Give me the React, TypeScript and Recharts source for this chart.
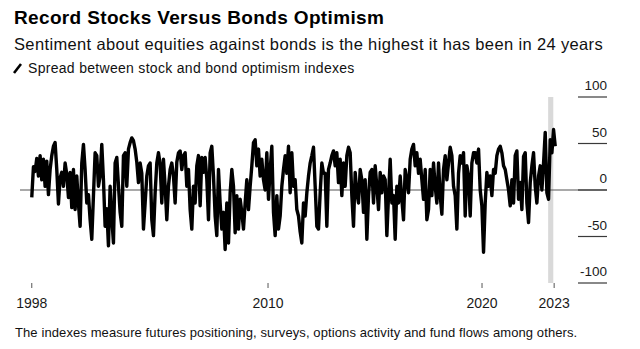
import { LineChart, Line, XAxis, YAxis, ReferenceLine, ReferenceArea } from 'recharts';

// weekly-ish readings of the spread (stock optimism minus bond optimism)
const spread1999to2002 = [
  -8, 25, 20, 34, 15, 37, 11, 33, 4, 31, -5, 22, 37, 47, 51, 22, -15, 13, 19, 4,
  29, 17, -8, 19, -19, 22, -21, 15, -15, -39, 29, 49, 22, -14, -5, -32, -53, -6, 40, 37,
  4, 15, 49, 11, -39, -20, -60, 4, -30, -57,
];
const spread2003to2006 = [
  29, 35, 5, -24, -39, 37, 40, 4, 44, 51, 56, 53, 44, 30, 8, 29, 18, -42, -14, 15,
  26, 29, -32, -49, -3, 29, 40, 28, -14, 33, 4, -32, 4, 22, 29, 15, -14, 30, 40, 42,
  22, 37, 40, 4, 22, -21, -42, 4, -14, 26, 37, -17, 35, 19,
];
const spread2007to2010 = [
  35, 12, -32, 40, 47, 15, -28, -49, 22, -14, -42, -24, -64, -14, -57, -3, 22, 4, -46, -6,
  -42, -10, -24, -42, -14, 11, -21, 4, 26, 51, 54, 26, 44, 15, 33, 11, 0, 40, -10, 22,
  47, -24, -49, -6, -42, -28, 4, 22, 37, 18, 47, -3, 40, 4,
];
const spread2011to2015 = [
  11, -21, -28, -45, -57, -14, -28, -3, 15, 29, 37, 46, 4, -39, -42, -3, 29, 18, 18, -39,
  22, 29, 37, 42, 26, 40, 8, 33, -6, 29, 4, 37, 46, 40, -6, -39, 19, -3, -14, 22,
  11, -24, 11, -53, -6, 19, 22, -14, 26, 4, -21, 19, -3, 15,
];
const spread2015to2019 = [
  11, -49, -6, 33, -14, -6, -53, 4, -14, 15, -10, -32, 22, 11, -3, 33, 44, 49, 26, 40,
  18, 33, 11, -10, 22, -32, -21, 22, -6, 29, 4, -14, 29, -6, -26, 22, 37, 11, 29, 46,
  37, 4, -6, -42, 18, 37, 29, 40, -28, 26, 15, -28, 29, 40,
];
const spread2019to2023 = [
  40, 29, 44, 0, -17, -67, -14, 19, 4, 15, -6, 22, 18, 37, 44, 47, 40, 26, 22, 11,
  0, -17, 11, -14, 37, 42, -10, 8, -21, 36, 40, -14, -35, 8, 26, 40, 4, -14, 15, 26,
  0, 29, 62, -3, -10, 54, 40, 65, 47,
];

const firstDate = 1998.96; // decimal year of the first reading
const readingStep = 0.0779; // years between readings

const yTicks = [-100, -50, 0, 50, 100];
const xTicks = [1998.96, 2010, 2020, 2023.37];
const xTickLabels = ['1998', '2010', '2020', '2023'];
const latestWindow = [2023.09, 2023.33];

const allReadings = [
  ...spread1999to2002,
  ...spread2003to2006,
  ...spread2007to2010,
  ...spread2011to2015,
  ...spread2015to2019,
  ...spread2019to2023,
];
const chartData = allReadings.map((v, i) => ({ date: firstDate + i * readingStep, spread: v }));

const FONT = '"Liberation Sans", Arial, Helvetica, sans-serif';

function YTick(props: any) {
  const { x, y, payload } = props;
  return (
    <g>
      <line x1={x - 29} x2={x} y1={y} y2={y} stroke="#3a3a3a" strokeWidth={1.2} />
      <text x={x} y={y - 7} textAnchor="end" fontSize={13.5} fill="#1a1a1a" fontFamily={FONT}>
        {payload.value}
      </text>
    </g>
  );
}

export default function App() {
  return (
    <div style={{ position: 'relative', width: 640, height: 349, background: '#fff', fontFamily: FONT }}>
      <style>{'body{margin:0}'}</style>
      <LineChart
        width={640}
        height={349}
        data={chartData}
        margin={{ top: 97, right: 33, bottom: 36, left: 20 }}
      >
        <ReferenceArea
          x1={latestWindow[0]}
          x2={latestWindow[1]}
          y1={-100}
          y2={100}
          fill="#d9d9d9"
          fillOpacity={1}
          stroke="none"
        />
        <ReferenceLine y={0} stroke="#555" strokeWidth={1.2} />
        <XAxis
          dataKey="date"
          type="number"
          domain={[1998.41, 2025.84]}
          ticks={xTicks}
          interval={0}
          tickFormatter={(v: number) => xTickLabels[xTicks.indexOf(v)]}
          axisLine={false}
          tickLine={{ stroke: '#555' }}
          tickSize={5}
          tickMargin={10}
          height={30}
          tick={{ fontSize: 14, fill: '#1a1a1a', fontFamily: FONT }}
        />
        <YAxis
          orientation="right"
          mirror
          domain={[-100, 100]}
          ticks={yTicks}
          interval={0}
          axisLine={false}
          tickLine={false}
          tickSize={0}
          tickMargin={0}
          tick={<YTick />}
        />
        <Line
          type="linear"
          dataKey="spread"
          stroke="#000"
          strokeWidth={3.4}
          strokeLinejoin="round"
          dot={false}
          isAnimationActive={false}
        />
      </LineChart>
      <svg width={640} height={349} style={{ position: 'absolute', left: 0, top: 0, pointerEvents: 'none' }}>
        <text x={14} y={24} fontSize={19} fontWeight="bold" letterSpacing={0.35} fill="#000" fontFamily={FONT}>
          Record Stocks Versus Bonds Optimism
        </text>
        <text x={14} y={50} fontSize={16.5} letterSpacing={0.36} fill="#111" fontFamily={FONT}>
          Sentiment about equities against bonds is the highest it has been in 24 years
        </text>
        <line x1={14} y1={73} x2={21} y2={64} stroke="#000" strokeWidth={2.6} />
        <text x={28} y={73} fontSize={14} letterSpacing={0.3} fill="#111" fontFamily={FONT}>
          Spread between stock and bond optimism indexes
        </text>
        <text x={15} y={337} fontSize={13} letterSpacing={0.1} fill="#111" fontFamily={FONT}>
          The indexes measure futures positioning, surveys, options activity and fund flows among others.
        </text>
      </svg>
    </div>
  );
}
